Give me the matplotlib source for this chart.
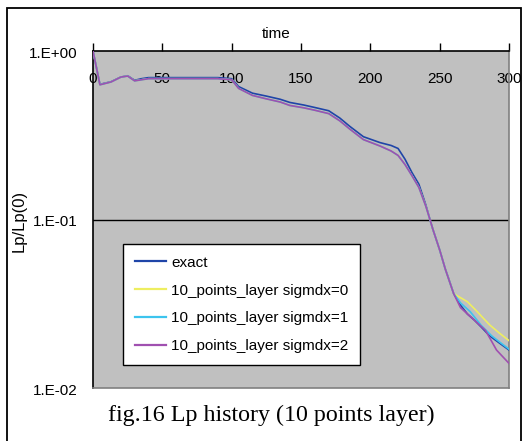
import matplotlib
matplotlib.use("Agg")
import matplotlib.pyplot as plt
import matplotlib.transforms as mtransforms
from matplotlib.patches import Rectangle
from matplotlib.ticker import NullLocator

# --- data -------------------------------------------------------------
t_exact = [0, 5, 13, 20, 25, 30, 35, 40, 50, 60, 70, 80, 90, 100, 105, 115,
           125, 135, 142, 152, 160, 170, 178, 185, 195, 207, 215, 220, 225,
           230, 235, 240, 243, 245, 250, 254, 256, 260, 265, 270, 275, 280,
           286, 293, 300]
lp_exact = [1.0, 0.634, 0.657, 0.70, 0.713, 0.67, 0.685, 0.695, 0.695, 0.695,
            0.695, 0.695, 0.695, 0.685, 0.615, 0.562, 0.54, 0.517, 0.495,
            0.478, 0.462, 0.442, 0.40, 0.358, 0.31, 0.286, 0.275, 0.264,
            0.228, 0.19, 0.162, 0.122, 0.10, 0.088, 0.066, 0.051, 0.0458,
            0.0365, 0.031, 0.0275, 0.0253, 0.023, 0.0204, 0.0185, 0.0168]

t_layer = [0, 5, 13, 20, 25, 30, 35, 40, 50, 60, 70, 80, 90, 100, 105, 115,
           125, 135, 142, 152, 160, 170, 178, 185, 195, 207, 215, 220, 225,
           230, 235, 240, 243, 245, 250, 254, 256, 260]
lp_layer_common = [1.0, 0.63, 0.655, 0.70, 0.71, 0.665, 0.675, 0.685, 0.685,
                   0.685, 0.685, 0.685, 0.685, 0.675, 0.60, 0.545, 0.52,
                   0.498, 0.475, 0.46, 0.445, 0.425, 0.385, 0.345, 0.298,
                   0.273, 0.255, 0.24, 0.212, 0.182, 0.155, 0.12, 0.10,
                   0.088, 0.066, 0.051, 0.0455, 0.0365]

t_tail0 = [262, 266, 270, 276, 281, 286, 293, 300]
lp_tail0 = [0.0355, 0.034, 0.0325, 0.029, 0.0262, 0.0237, 0.0212, 0.0191]

t_tail1 = [265, 272, 280, 287.5, 293, 300]
lp_tail1 = [0.032, 0.0284, 0.0235, 0.0204, 0.0188, 0.017]

t_tail2 = [265, 270, 275, 283, 291, 300]
lp_tail2 = [0.030, 0.0275, 0.0253, 0.022, 0.0168, 0.014]

series_labels = ["exact", "10_points_layer sigmdx=0",
                 "10_points_layer sigmdx=1", "10_points_layer sigmdx=2"]
series_colors = ["#1f45a8", "#eeee60", "#3cc4ee", "#a050b0"]

x_ticks = [0, 50, 100, 150, 200, 250, 300]
y_ticks = [1.0, 0.1, 0.01]
y_ticklabels = ["1.E+00", "1.E-01", "1.E-02"]

# --- figure -----------------------------------------------------------
W, H = 522, 441
fig = plt.figure(figsize=(W / 100, H / 100), dpi=100)
fig.patch.set_facecolor("white")

sans = ["Liberation Sans", "DejaVu Sans"]
fs = 11

# outer chart border
fig.add_artist(Rectangle((7 / W, -0.01), (520.5 - 7) / W, 1 - 8 / H + 0.01,
                         transform=fig.transFigure, fill=False,
                         edgecolor="black", linewidth=1.3))

ax = fig.add_axes([93 / W, 1 - 388 / H, (509 - 93) / W, (388 - 51) / H])
ax.set_facecolor("#c0c0c0")
ax.set_yscale("log")
ax.set_xlim(0, 300)
ax.set_ylim(0.01, 1.0)

# series
ax.plot(t_exact, lp_exact, color=series_colors[0], lw=1.2,
        label=series_labels[0], zorder=3)
ax.plot(t_layer + t_tail0, lp_layer_common + lp_tail0, color=series_colors[1],
        lw=1.2, label=series_labels[1], zorder=4)
ax.plot(t_layer + t_tail1, lp_layer_common + lp_tail1, color=series_colors[2],
        lw=1.2, label=series_labels[2], zorder=5)
ax.plot(t_layer + t_tail2, lp_layer_common + lp_tail2, color=series_colors[3],
        lw=1.2, label=series_labels[3], zorder=6)

# gridline at the middle decade
ax.axhline(0.1, color="black", lw=1.0, zorder=2)

# spines
for side in ("left", "top"):
    ax.spines[side].set_color("black")
    ax.spines[side].set_linewidth(1.2)
for side in ("right", "bottom"):
    ax.spines[side].set_color("#808080")
    ax.spines[side].set_linewidth(1.2)

# x axis on top, labels sitting just inside the plot area
ax.xaxis.tick_top()
ax.set_xticks(x_ticks)
ax.set_xticklabels([str(v) for v in x_ticks], fontfamily=sans, fontsize=fs)
ax.tick_params(axis="x", which="both", top=True, bottom=False,
               labeltop=True, labelbottom=False, direction="out",
               length=6, width=1, pad=-26)
for lbl in ax.get_xticklabels():
    lbl.set_va("center")
ax.xaxis.set_label_position("top")
ax.set_xlabel("time", fontfamily=sans, fontsize=fs)
ax.xaxis.set_label_coords((276 - 93) / 416, (388 - 38) / 337)

# y axis
ax.set_yticks(y_ticks)
ax.set_yticklabels(y_ticklabels, fontfamily=sans, fontsize=fs)
ax.yaxis.set_minor_locator(NullLocator())
ax.tick_params(axis="y", which="both", length=0, pad=11)
shift_down = mtransforms.ScaledTranslation(0, -3 / 100, fig.dpi_scale_trans)
for tick in ax.yaxis.get_major_ticks():
    tick.label1.set_va("center")
    tick.label1.set_transform(tick.label1.get_transform() + shift_down)
ax.set_ylabel("Lp/Lp(0)", fontfamily=sans, fontsize=12)
ax.yaxis.set_label_coords((27 - 93) / 416, (388 - 221) / 337)

leg = ax.legend(loc="lower left", bbox_to_anchor=(30 / 416, 23 / 337),
                prop={"family": sans, "size": fs}, frameon=True,
                fancybox=False, framealpha=1, edgecolor="black",
                handlelength=2.05, handletextpad=0.33, labelspacing=0.91,
                borderpad=0.76, borderaxespad=0)
leg.get_frame().set_linewidth(1.0)
for line in leg.get_lines():
    line.set_linewidth(1.6)

fig.text(271 / W, 1 - 415 / H, "fig.16 Lp history (10 points layer)",
         fontfamily="Liberation Serif", fontsize=17.3, ha="center",
         va="center")

fig.savefig("out.png", dpi=100, facecolor="white")
